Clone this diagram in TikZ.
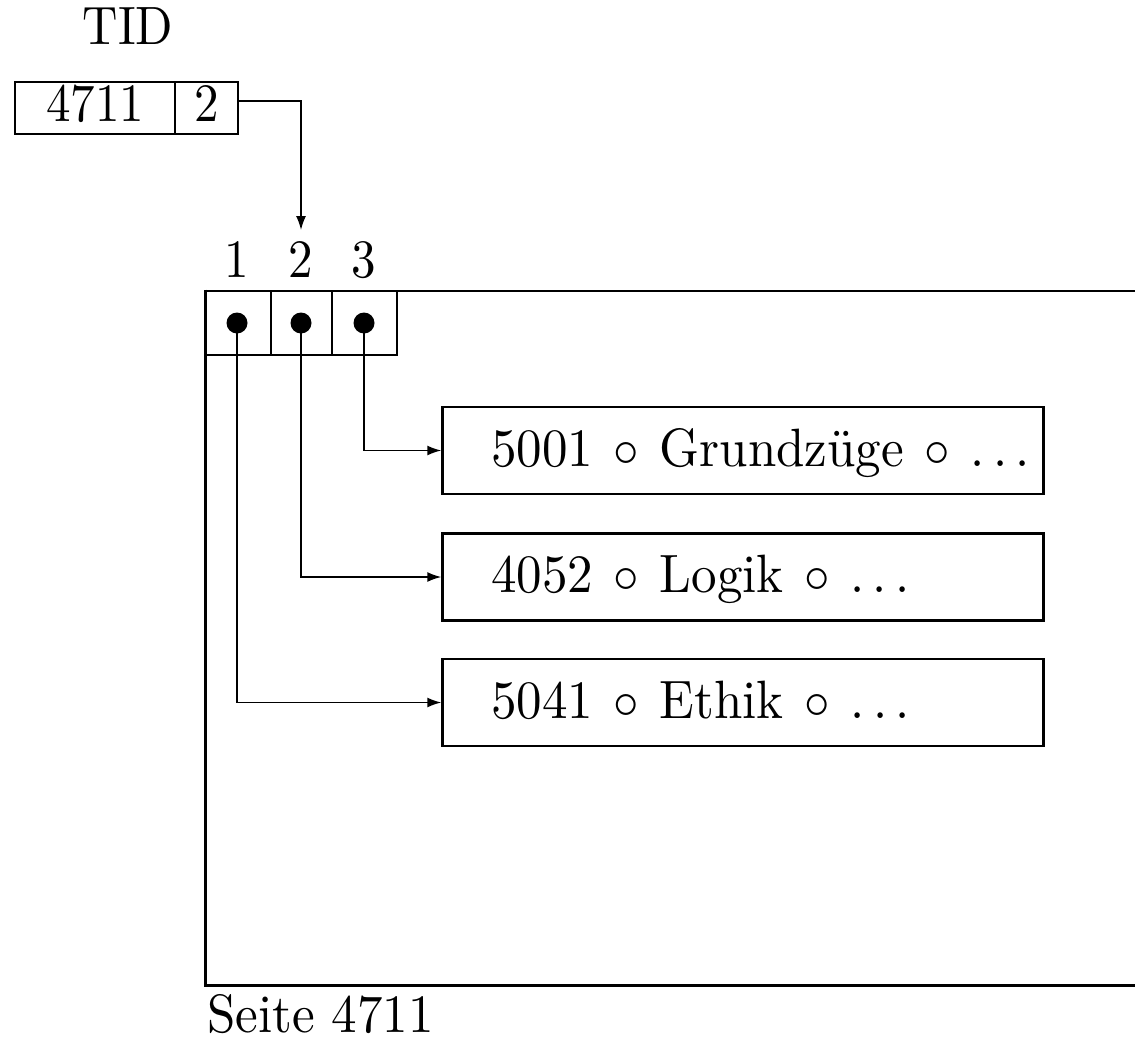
\documentclass[tikz,border=0pt]{standalone}
\usepackage{graphicx}
\usetikzlibrary{arrows.meta}
\newcommand{\BT}[1]{\scalebox{4.9}[5.4]{#1}}
\newcommand{\BW}[1]{\scalebox{5.1}[5.4]{#1}}
\newcommand{\oc}{\hspace{0.07em}$\circ$\hspace{0.07em}}
\begin{document}
\begin{tikzpicture}[x=1pt,y=-1pt,
  txt/.style={inner sep=0pt},
  cell/.style={draw, line width=2pt, inner sep=0pt, minimum height=52},
  slot/.style={draw, line width=2.2pt, inner sep=0pt, minimum width=64, minimum height=64},
  dotn/.style={circle, fill=black, inner sep=0pt, minimum size=21},
  rec/.style={draw, line width=2.5pt, inner sep=0pt, minimum width=601, minimum height=87},
  conn/.style={line width=1.5pt},
  arr/.style={conn, -{Latex[length=14pt,width=10pt]}}
]
\useasboundingbox (0,0) rectangle (1135,1041);

% TID
\node[txt, anchor=base] (tidlbl) at (128,45) {\BT{TID}};
\node[cell, minimum width=160] (t1) at (95,108) {};
\node[cell, minimum width=63] (t2) at (206.5,108) {};
\node[txt, anchor=base] (t1txt) at (95,121) {\BT{4711}};
\node[txt, anchor=base] (t2txt) at (206.5,121) {\BT{2}};
\coordinate (tipc) at (301,230);
\draw[arr] ([yshift=7pt]t2.east) -| (tipc);

% page
\draw[line width=1.5pt] (397,291) -- (1135,291);
\draw[line width=3pt] (205,289.5) -- (205,985) -- (1135,985);

% slot labels
\node[txt, anchor=base] (l1) at (237,277) {\BT{1}};
\node[txt, anchor=base] (l2) at (301,277) {\BT{2}};
\node[txt, anchor=base] (l3) at (364,277) {\BT{3}};

% slots
\node[slot, minimum width=66] (s1) at (238,323) {};
\node[slot, minimum width=61] (s2) at (301.5,323) {};
\node[slot, minimum width=65] (s3) at (364.5,323) {};
\node[dotn] (d1) at (237,323) {};
\node[dotn] (d2) at (301,323) {};
\node[dotn] (d3) at (364,323) {};

% records
\node[rec] (r1) at (743,450.5) {};
\node[rec] (r2) at (743,577) {};
\node[rec] (r3) at (743,702.5) {};
\node[txt, anchor=base west] (r1t) at (491,466) {\BW{5001 \oc{} Grundzüge \oc{} $\ldots$}};
\node[txt, anchor=base west] (r2t) at (491,592) {\BW{4052 \oc{} Logik \oc{} $\ldots$}};
\node[txt, anchor=base west] (r3t) at (491,718) {\BW{5041 \oc{} Ethik \oc{} $\ldots$}};

% connectors
\draw[arr] (d3.center) |- (r1.west);
\draw[arr] (d2.center) |- (r2.west);
\draw[arr] (d1.center) |- (r3.west);

% caption
\node[txt, anchor=base west] (cap) at (207,1032) {\BW{Seite 4711}};
\end{tikzpicture}
\end{document}
